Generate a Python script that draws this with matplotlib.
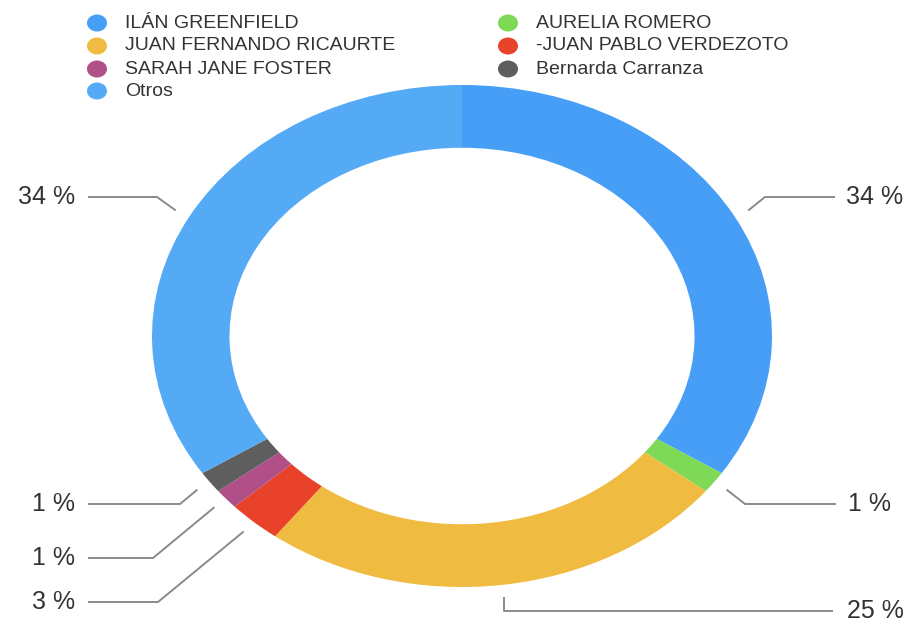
import matplotlib.pyplot as plt
import numpy as np
from matplotlib.patches import Ellipse

# Data
names = ['ILÁN GREENFIELD', 'AURELIA ROMERO', 'JUAN FERNANDO RICAURTE',
         '-JUAN PABLO VERDEZOTO', 'SARAH JANE FOSTER', 'Bernarda Carranza', 'Otros']
shares = [34.2, 1.4, 24.7, 2.8, 1.3, 1.4, 34.2]
colors = ['#479EF6', '#7ED957', '#EFBB40', '#E9422A', '#B04F88', '#5E5E5E', '#55AAF6']

W, H = 913, 625
cx, cy, rx, ry = 462, 336, 310, 251   # pie centre / radii in pixels


def px(x, y):
    # pixel position (from top-left) -> data coords of the stretched pie axes
    return (x - cx) / rx, (cy - y) / ry


fig = plt.figure(figsize=(W / 100, H / 100), dpi=100)
ax = fig.add_axes([0, 0, 1, 1])

wedges, _ = ax.pie(shares, colors=colors, startangle=90, counterclock=False,
                   radius=1, wedgeprops=dict(width=0.25, linewidth=0))
ax.set_aspect('auto')
ax.set_xlim(-cx / rx, (W - cx) / rx)
ax.set_ylim(-(H - cy) / ry, cy / ry)
ax.axis('off')

# label layout: label y, elbow x (None = straight down), line end x, text x, side
layout = [
    (197, 765, 835, 846, 'left'),
    (504, 745, 836, 848, 'left'),
    (611, None, 833, 847, 'left'),
    (602, 158, 88, 75, 'right'),
    (558, 153, 88, 75, 'right'),
    (504, 180, 88, 75, 'right'),
    (197, 157, 88, 75, 'right'),
]

txt = '#333333'
font = 'Liberation Sans'
for w, v, (ly, ex, lx, tx, ha) in zip(wedges, shares, layout):
    mid = np.deg2rad((w.theta1 + w.theta2) / 2)
    sx, sy = 1.05 * np.cos(mid), 1.05 * np.sin(mid)
    ey = px(0, ly)[1]
    exd = sx if ex is None else px(ex, 0)[0]
    ax.plot([sx, exd, px(lx, 0)[0]], [sy, ey, ey], color='#8a8a8a', lw=1.4,
            solid_capstyle='butt')
    ax.text(px(tx, 0)[0], ey, f'{v:.0f} %', ha=ha, va='center',
            fontsize=18, color=txt, family=font)

# legend, row-major in two columns
col_x = [(97, 125), (508, 536)]
row_y = [23, 46, 69, 91]
for i, (n, c) in enumerate(zip(names, colors)):
    mx, tx = col_x[i % 2]
    yy = row_y[i // 2]
    mxd, myd = px(mx, yy)
    ax.add_patch(Ellipse((mxd, myd), 20 / rx, 17 / ry, color=c, lw=0))
    ax.text(px(tx, 0)[0], myd, n, ha='left', va='center', fontsize=14,
            color=txt, family=font)

plt.savefig('out.png', dpi=100)
